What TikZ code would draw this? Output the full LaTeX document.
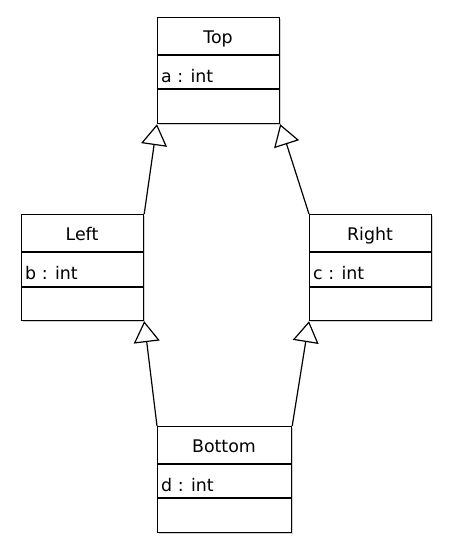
\documentclass[tikz,border=0pt]{standalone}
\usepackage{fontspec}
\setmainfont{DejaVu Sans}
\usetikzlibrary{arrows.meta}
\begin{document}
\begin{tikzpicture}[x=1pt,y=-1pt,
  classbox/.style={draw=black, line width=1.2pt, fill=white, anchor=north west, inner sep=0pt,
    minimum height=106pt, drop/.style={}},
  shadowbox/.style={fill=black!18, anchor=north west, inner sep=0pt, minimum height=106pt},
  divider/.style={draw=black, line width=1.2pt},
  classname/.style={anchor=base, inner sep=0pt, font=\fontsize{17.4}{20}\selectfont},
  attr/.style={anchor=base west, inner sep=0pt, font=\fontsize{17.4}{20}\selectfont},
  gen/.style={draw=black, line width=1.2pt, -{Triangle[open, length=21pt, width=26pt, line width=1.2pt]}}
]
\useasboundingbox (0,0) rectangle (451,550);
% shadows
\node[shadowbox, minimum width=122pt] (topsh) at (159,19) {};
\node[shadowbox, minimum width=122pt] (leftsh) at (23,216) {};
\node[shadowbox, minimum width=122pt] (rightsh) at (311,216) {};
\node[shadowbox, minimum width=134pt] (bottomsh) at (159,428) {};
% Top
\node[classbox, minimum width=122pt] (top) at (157,17) {};
\draw[divider] (157,55) -- (279,55);
\draw[divider] (157,89) -- (279,89);
\node[classname] (topname) at (218,43) {Top};
\node[attr] (topattr) at (161,82) {a : int};
% Left
\node[classbox, minimum width=122pt] (left) at (21,214) {};
\draw[divider] (21,252) -- (143,252);
\draw[divider] (21,287) -- (143,287);
\node[classname] (leftname) at (82,240) {Left};
\node[attr] (leftattr) at (25,279) {b : int};
% Right
\node[classbox, minimum width=122pt] (right) at (309,214) {};
\draw[divider] (309,252) -- (431,252);
\draw[divider] (309,287) -- (431,287);
\node[classname] (rightname) at (370,240) {Right};
\node[attr] (rightattr) at (313,279) {c : int};
% Bottom
\node[classbox, minimum width=134pt] (bottom) at (157,426) {};
\draw[divider] (157,464) -- (291,464);
\draw[divider] (157,498) -- (291,498);
\node[classname] (bottomname) at (224,452) {Bottom};
\node[attr] (bottomattr) at (161,491) {d : int};
% generalizations
\draw[gen] (left.north east) -- (top.south west);
\draw[gen] (right.north west) -- (top.south east);
\draw[gen] (bottom.north west) -- (left.south east);
\draw[gen] (bottom.north east) -- (right.south west);
\end{tikzpicture}
\end{document}
